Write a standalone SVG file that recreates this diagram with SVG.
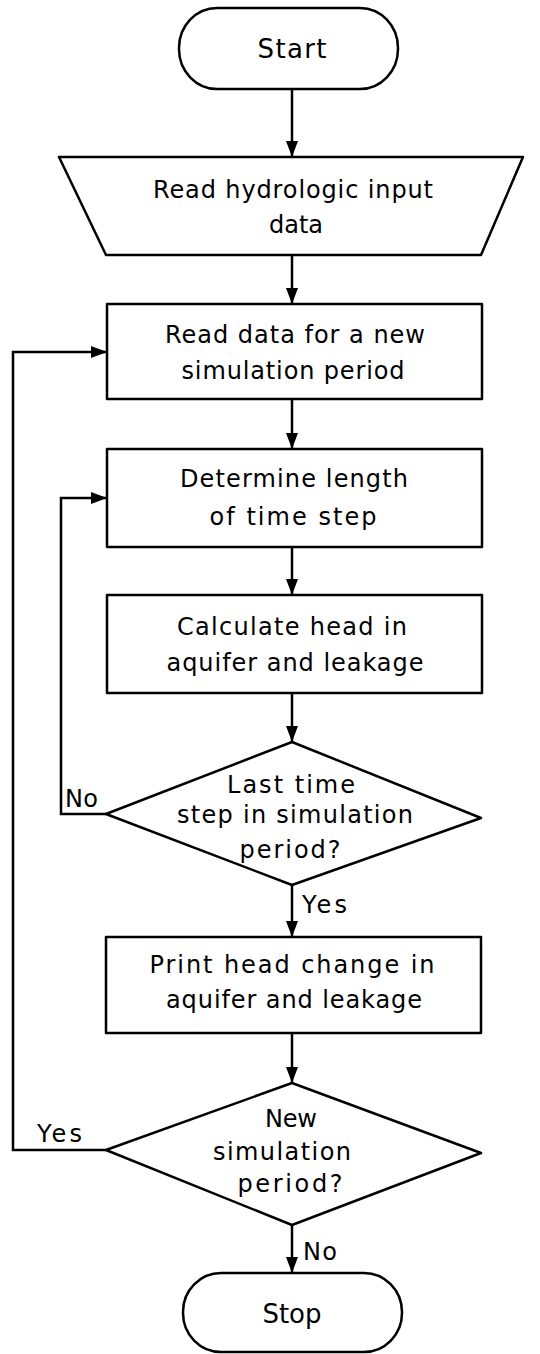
<svg xmlns="http://www.w3.org/2000/svg" width="540" height="1354" viewBox="0 0 540 1354">
<style>
.s{fill:#fff;stroke:#000;stroke-width:2.5;stroke-linejoin:round}
.c{fill:none;stroke:#000;stroke-width:2.5}
text{font-family:"DejaVu Sans","Liberation Sans",Arial,sans-serif;font-size:24px;fill:#000}
.t{text-anchor:middle}
.big{font-size:26px}
</style>
<defs>
<marker id="ah" markerUnits="userSpaceOnUse" markerWidth="16" markerHeight="14" refX="16" refY="7" orient="auto">
<path d="M0,1 L16,7 L0,13 z" fill="#000"/>
</marker>
</defs>
<rect width="540" height="1354" fill="#fff"/>
<g id="connectors">
<line class="c" x1="292" y1="89" x2="292" y2="157" marker-end="url(#ah)"/>
<line class="c" x1="292" y1="255" x2="292" y2="304" marker-end="url(#ah)"/>
<line class="c" x1="292" y1="399" x2="292" y2="449" marker-end="url(#ah)"/>
<line class="c" x1="292" y1="547" x2="292" y2="595" marker-end="url(#ah)"/>
<line class="c" x1="292" y1="693" x2="292" y2="742" marker-end="url(#ah)"/>
<line class="c" x1="292" y1="885" x2="292" y2="937" marker-end="url(#ah)"/>
<polyline class="c" points="106,814 61,814 61,498 107,498" marker-end="url(#ah)"/>
<line class="c" x1="292" y1="1033" x2="292" y2="1083" marker-end="url(#ah)"/>
<line class="c" x1="292" y1="1225" x2="292" y2="1273" marker-end="url(#ah)"/>
<polyline class="c" points="106,1150 13,1150 13,352 107,352" marker-end="url(#ah)"/>
<text x="65" y="807" textLength="33" lengthAdjust="spacing">No</text>
<text x="302" y="913" textLength="45" lengthAdjust="spacing">Yes</text>
<text x="37" y="1142" textLength="45" lengthAdjust="spacing">Yes</text>
<text x="303" y="1260" textLength="34" lengthAdjust="spacing">No</text>
</g>
<g id="start">
<rect class="s" x="179" y="8" width="219" height="81" rx="38" ry="40"/>
<text class="t big" x="292" y="58" textLength="69" lengthAdjust="spacing">Start</text>
</g>
<g id="read-input">
<polygon class="s" points="59,157 523,157 481,255 106,255"/>
<text class="t" x="293" y="198" textLength="280" lengthAdjust="spacing">Read hydrologic input</text>
<text class="t" x="296" y="233" textLength="54" lengthAdjust="spacing">data</text>
</g>
<g id="read-period">
<rect class="s" x="107" y="304" width="375" height="95"/>
<text class="t" x="295" y="343" textLength="260" lengthAdjust="spacing">Read data for a new</text>
<text class="t" x="293" y="379" textLength="223" lengthAdjust="spacing">simulation period</text>
</g>
<g id="time-step">
<rect class="s" x="107" y="449" width="375" height="98"/>
<text class="t" x="294" y="487" textLength="228" lengthAdjust="spacing">Determine length</text>
<text class="t" x="293" y="525" textLength="167" lengthAdjust="spacing">of time step</text>
</g>
<g id="calculate">
<rect class="s" x="107" y="595" width="375" height="98"/>
<text class="t" x="292" y="635" textLength="230" lengthAdjust="spacing">Calculate head in</text>
<text class="t" x="295" y="671" textLength="257" lengthAdjust="spacing">aquifer and leakage</text>
</g>
<g id="last-step">
<polygon class="s" points="292,742 481,818 292,885 106,814"/>
<text class="t" x="291" y="793" textLength="128" lengthAdjust="spacing">Last time</text>
<text class="t" x="295" y="823" textLength="236" lengthAdjust="spacing">step in simulation</text>
<text class="t" x="290" y="858" textLength="101" lengthAdjust="spacing">period?</text>
</g>
<g id="print">
<rect class="s" x="106" y="937" width="375" height="96"/>
<text class="t" x="292" y="973" textLength="285" lengthAdjust="spacing">Print head change in</text>
<text class="t" x="294" y="1008" textLength="256" lengthAdjust="spacing">aquifer and leakage</text>
</g>
<g id="new-period">
<polygon class="s" points="292,1083 481,1153 292,1225 106,1150"/>
<text class="t" x="291" y="1127" textLength="52" lengthAdjust="spacing">New</text>
<text class="t" x="282" y="1160" textLength="138" lengthAdjust="spacing">simulation</text>
<text class="t" x="290" y="1192" textLength="105" lengthAdjust="spacing">period?</text>
</g>
<g id="stop">
<rect class="s" x="183" y="1273" width="219" height="79" rx="38" ry="39"/>
<text class="t big" x="292" y="1323" textLength="59" lengthAdjust="spacing">Stop</text>
</g>
</svg>
